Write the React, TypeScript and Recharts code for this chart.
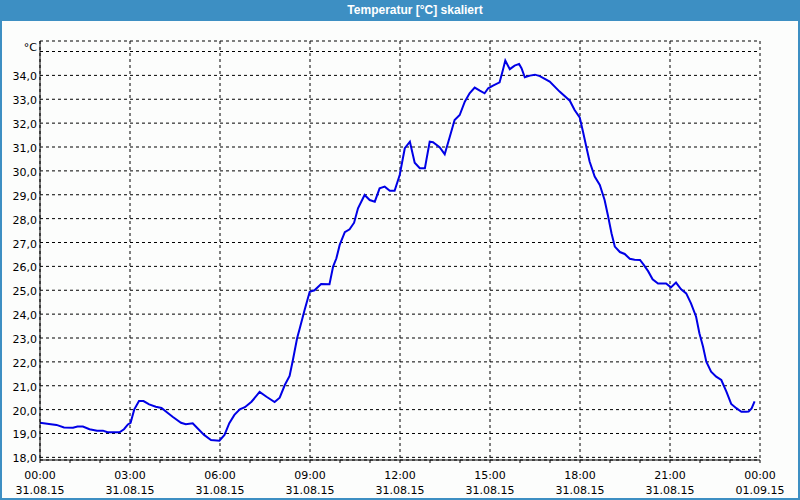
import { CartesianGrid, Line, LineChart, XAxis, YAxis } from "recharts";

// hours since 31.08.15 00:00 and temperature in °C
const hours = [
  0, 0.3, 0.55, 0.8, 1.1, 1.25, 1.43, 1.65, 1.9, 2.1, 2.25, 2.65, 2.8, 2.93, 3.02, 3.14, 3.3, 3.45, 3.64, 3.86,
  4.05, 4.25, 4.42, 4.7, 4.86, 5.09, 5.25, 5.47, 5.7, 5.98, 6.15, 6.31, 6.48, 6.66, 6.83, 7.05, 7.32, 7.55, 7.82, 7.99,
  8.16, 8.32, 8.43, 8.57, 8.66, 8.82, 8.99, 9.15, 9.37, 9.65, 9.77, 9.88, 9.99, 10.16, 10.32, 10.47, 10.6, 10.82, 10.99, 11.16,
  11.32, 11.49, 11.66, 11.82, 11.99, 12.16, 12.33, 12.49, 12.66, 12.83, 12.88, 12.99, 13.1, 13.32, 13.49, 13.66, 13.82, 13.99, 14.16, 14.32,
  14.49, 14.66, 14.82, 14.94, 15.1, 15.32, 15.43, 15.51, 15.66, 15.82, 15.97, 16.05, 16.16, 16.33, 16.5, 16.66, 16.99, 17.32, 17.66, 17.82,
  17.99, 18.1, 18.21, 18.32, 18.49, 18.66, 18.82, 18.94, 19.05, 19.16, 19.33, 19.49, 19.66, 19.82, 20.0, 20.12, 20.27, 20.42, 20.6, 20.87,
  21.03, 21.2, 21.37, 21.54, 21.7, 21.87, 21.98, 22.1, 22.21, 22.37, 22.54, 22.71, 22.88, 23.04, 23.21, 23.38, 23.54, 23.62, 23.72, 23.82,
];
const temps = [
  19.45, 19.4, 19.36, 19.25, 19.24, 19.29, 19.29, 19.18, 19.12, 19.12, 19.05, 19.05, 19.18, 19.38, 19.45, 20.0, 20.36, 20.36, 20.22, 20.12,
  20.07, 19.87, 19.7, 19.45, 19.39, 19.43, 19.22, 18.94, 18.73, 18.7, 18.94, 19.43, 19.78, 20.01, 20.1, 20.33, 20.74, 20.54, 20.32, 20.5,
  21.03, 21.41, 22.08, 22.99, 23.41, 24.17, 24.94, 25.0, 25.26, 25.25, 25.99, 26.34, 26.9, 27.43, 27.55, 27.83, 28.43, 28.99, 28.78, 28.71,
  29.27, 29.34, 29.17, 29.17, 29.83, 30.95, 31.22, 30.34, 30.11, 30.11, 30.46, 31.22, 31.2, 30.99, 30.7, 31.43, 32.13, 32.34, 32.9, 33.25,
  33.49, 33.36, 33.25, 33.46, 33.57, 33.71, 34.23, 34.62, 34.26, 34.41, 34.48, 34.3, 33.92, 33.99, 34.03, 33.97, 33.74, 33.32, 32.94, 32.55,
  32.24, 31.64, 31.01, 30.39, 29.76, 29.41, 28.78, 28.08, 27.39, 26.83, 26.6, 26.52, 26.32, 26.28, 26.27, 26.07, 25.8, 25.46, 25.28, 25.28,
  25.12, 25.32, 25.04, 24.87, 24.45, 23.89, 23.2, 22.64, 22.01, 21.59, 21.38, 21.24, 20.75, 20.24, 20.06, 19.91, 19.91, 19.92, 20.05, 20.35,
];

const hourTicks = Array.from({ length: 25 }, (_, i) => i);
const labelHours = [0, 3, 6, 9, 12, 15, 18, 21, 24];
const labelTimes = ["00:00", "03:00", "06:00", "09:00", "12:00", "15:00", "18:00", "21:00", "00:00"];
const labelDates = ["31.08.15", "31.08.15", "31.08.15", "31.08.15", "31.08.15", "31.08.15", "31.08.15", "31.08.15", "01.09.15"];
const tempTicks = [18, 19, 20, 21, 22, 23, 24, 25, 26, 27, 28, 29, 30, 31, 32, 33, 34, 35];
const unitLabel = "°C";
const title = "Temperatur [°C] skaliert";

const FONT = "'DejaVu Sans', sans-serif";
const FRAME = "#3d8fc3";
const xDomain = [0, 24];
const yDomain = [17.89, 35.44];

const data = hours.map((h, i) => ({ h, t: temps[i] }));

// grid only every 3 hours, while the axis ticks every hour
const majorVerticals = ({ xAxis, offset }: any) =>
  labelHours.map((h) =>
    typeof xAxis?.scale === "function"
      ? xAxis.scale(h)
      : offset.left + ((h - xDomain[0]) / (xDomain[1] - xDomain[0])) * offset.width
  );

const TimeTick = ({ x, y, payload }: any) => {
  const idx = labelHours.indexOf(payload.value);
  if (idx < 0) return <g />;
  return (
    <text x={x} textAnchor="middle" fontFamily={FONT} fontSize={11} fill="#000">
      <tspan x={x} y={y + 14}>{labelTimes[idx]}</tspan>
      <tspan x={x} y={y + 29}>{labelDates[idx]}</tspan>
    </text>
  );
};

const TempTick = ({ x, y, payload }: any) => {
  const v = payload.value;
  const top = v === tempTicks[tempTicks.length - 1];
  return (
    <text x={x} y={y + (top ? -1 : 5)} textAnchor="end" fontFamily={FONT} fontSize={11} fill="#000">
      {top ? unitLabel : v.toFixed(1).replace(".", ",")}
    </text>
  );
};

export default function App() {
  return (
    <div style={{ position: "fixed", left: 0, top: 0, width: 800, height: 500, background: "#fcfdfc", overflow: "hidden" }}>
      <LineChart width={800} height={500} data={data} margin={{ top: 41, right: 40, bottom: 0, left: 0 }}>
        <CartesianGrid stroke="#000" strokeDasharray="3 3" verticalCoordinatesGenerator={majorVerticals} />
        <XAxis
          dataKey="h"
          type="number"
          domain={xDomain}
          ticks={hourTicks}
          interval={0}
          height={40}
          tickSize={3}
          tickLine={{ stroke: "#000" }}
          axisLine={{ stroke: "#000" }}
          tick={<TimeTick />}
        />
        <XAxis xAxisId="top" orientation="top" dataKey="h" type="number" domain={xDomain} height={0} tick={false} tickLine={false} axisLine={{ stroke: "#000" }} />
        <YAxis
          type="number"
          domain={yDomain}
          allowDataOverflow
          ticks={tempTicks}
          interval={0}
          width={40}
          tickSize={0}
          tickMargin={3}
          tickLine={false}
          axisLine={{ stroke: "#000" }}
          tick={<TempTick />}
        />
        <YAxis yAxisId="right" orientation="right" type="number" domain={yDomain} width={0} tick={false} tickLine={false} axisLine={{ stroke: "#000" }} />
        <Line dataKey="t" type="linear" stroke="#0000e6" strokeWidth={2} dot={false} activeDot={false} isAnimationActive={false} />
      </LineChart>
      <div
        style={{
          position: "absolute",
          left: 0,
          top: 0,
          width: 800,
          height: 21,
          background: FRAME,
          color: "#fff",
          fontFamily: "'Liberation Sans', sans-serif",
          fontWeight: "bold",
          fontSize: 12,
          lineHeight: "21px",
        }}
      >
        <span style={{ position: "absolute", left: 415, transform: "translateX(-50%)", whiteSpace: "nowrap" }}>{title}</span>
      </div>
      <div
        style={{
          position: "absolute",
          left: 0,
          top: 0,
          width: 800,
          height: 500,
          boxSizing: "border-box",
          border: `2px solid ${FRAME}`,
          borderTop: 0,
          pointerEvents: "none",
        }}
      />
    </div>
  );
}
